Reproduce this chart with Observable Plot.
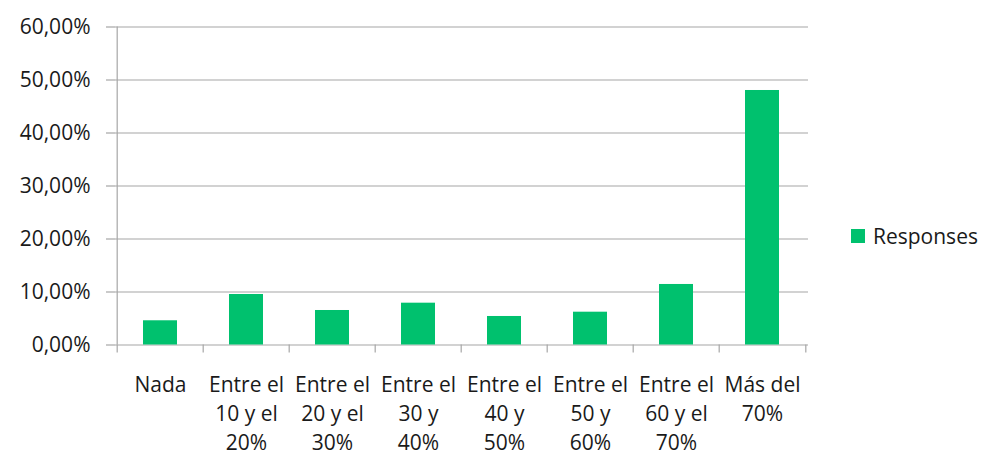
<!DOCTYPE html>
<html>
<head>
<meta charset="utf-8">
<script src="https://cdn.jsdelivr.net/npm/d3@7"></script>
<script src="https://cdn.jsdelivr.net/npm/@observablehq/plot@0.6"></script>
<style>
  html, body { margin: 0; padding: 0; background: #fff; }
  #wrap { position: relative; width: 986px; height: 455px; font-family: "Open Sans", sans-serif; color: #1a1a1a; }
  #legend { position: absolute; left: 851px; top: 222px; display: flex; align-items: center; font-size: 21px; }
  #legend .sw { width: 14px; height: 14px; margin-right: 8px; }
</style>
</head>
<body>
<div id="wrap"><div id="legend"></div></div>
<script>
const categories = ["Nada", "Entre el 10 y el 20%", "Entre el 20 y el 30%", "Entre el 30 y 40%",
  "Entre el 40 y 50%", "Entre el 50 y 60%", "Entre el 60 y el 70%", "Más del 70%"];
const tickLabels = ["Nada", "Entre el\n10 y el\n20%", "Entre el\n20 y el\n30%", "Entre el\n30 y\n40%",
  "Entre el\n40 y\n50%", "Entre el\n50 y\n60%", "Entre el\n60 y el\n70%", "Más del\n70%"];
const values = [0.0457, 0.0953, 0.0651, 0.0789, 0.0538, 0.0619, 0.1142, 0.4802];
const yTicks = [0, 0.1, 0.2, 0.3, 0.4, 0.5, 0.6];
const seriesName = "Responses";
const barColor = "#00c16e";
const gridColor = "#a6a6a6";

const W = 986, H = 455, ML = 115, MR = 178, MT = 26.5, MB = 110.5;
const step = (W - ML - MR) / categories.length;
const innerH = H - MT - MB;

const data = categories.map((c, i) => ({cat: c, value: values[i], label: tickLabels[i]}));
const fmt = d => (d * 100).toFixed(2).replace(".", ",") + "%";

const plot = Plot.plot({
  width: W, height: H,
  marginLeft: ML, marginRight: MR, marginTop: MT, marginBottom: MB,
  style: {fontFamily: "Open Sans", fontSize: "21px", color: "#1a1a1a", background: "transparent", overflow: "visible"},
  x: {domain: categories, paddingInner: 0.6, paddingOuter: 0.3, axis: null},
  y: {domain: [0, 0.6], axis: null},
  marks: [
    Plot.ruleY(yTicks, {stroke: gridColor, strokeWidth: 1.2}),
    Plot.ruleX([categories[0]], {dx: -step / 2, stroke: gridColor, strokeWidth: 1.2}),
    Plot.ruleX(categories, {dx: -step / 2, insetTop: innerH, insetBottom: -8, stroke: gridColor, strokeWidth: 1.2}),
    Plot.ruleX([categories[categories.length - 1]], {dx: step / 2, insetTop: innerH, insetBottom: -8, stroke: gridColor, strokeWidth: 1.2}),
    Plot.barY(data, {x: "cat", y: "value", fill: barColor}),
    Plot.axisY({ticks: yTicks, tickFormat: fmt, tickSize: 9, tickPadding: 16, stroke: gridColor, strokeWidth: 1.2, fontSize: 21, label: null}),
    Plot.text(data, {x: "cat", text: "label", frameAnchor: "bottom", lineAnchor: "top", dy: 26, lineHeight: 1.38, fontSize: 21, fill: "#1a1a1a"})
  ]
});
document.getElementById("wrap").prepend(plot);

const legend = document.getElementById("legend");
legend.innerHTML = `<div class="sw" style="background:${barColor}"></div><span>${seriesName}</span>`;
</script>
</body>
</html>
